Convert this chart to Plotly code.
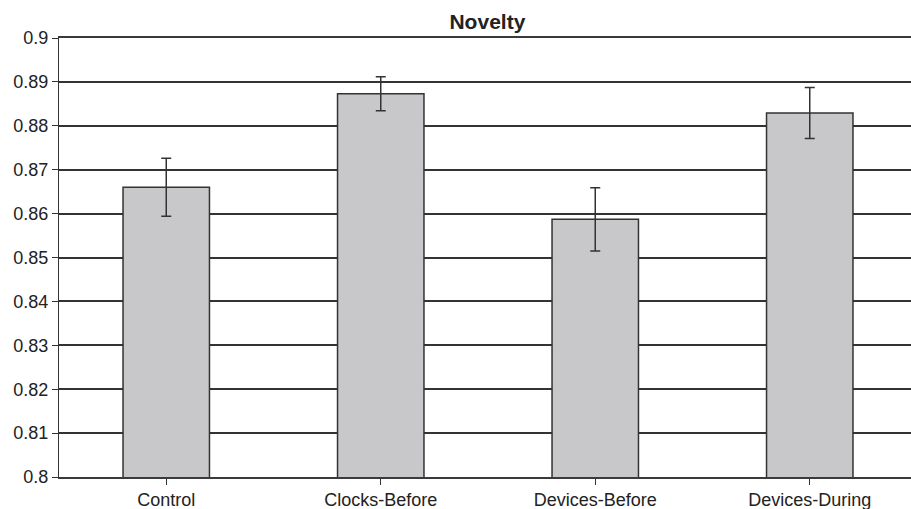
import plotly.graph_objects as go

categories = ["Control", "Clocks-Before", "Devices-Before", "Devices-During"]
values = [0.8660, 0.8873, 0.8587, 0.8829]
errors = [0.0066, 0.0039, 0.0072, 0.0058]
y_ticks = [0.8, 0.81, 0.82, 0.83, 0.84, 0.85, 0.86, 0.87, 0.88, 0.89, 0.9]
y_tick_labels = ["0.8", "0.81", "0.82", "0.83", "0.84", "0.85", "0.86", "0.87", "0.88", "0.89", "0.9"]
title = "Novelty"

FONT = "Liberation Sans, Arial, sans-serif"
DARK = "#333333"

fig = go.Figure()
fig.add_trace(go.Bar(
    x=list(range(len(categories))),
    y=values,
    width=0.403,
    marker=dict(color="#c8c8ca", line=dict(color=DARK, width=1.5)),
    error_y=dict(type="data", array=errors, visible=True, color=DARK, thickness=1.5, width=5),
))

fig.update_layout(
    width=911, height=509,
    margin=dict(l=59, r=0, t=38, b=32, pad=0),
    paper_bgcolor="white", plot_bgcolor="white",
    showlegend=False,
    font=dict(family=FONT, size=16, color="#222222"),
    title=dict(text="<b>" + title + "</b>", x=0.535, xref="container", xanchor="center",
               y=1 - 21.5 / 509, yref="container", yanchor="middle",
               font=dict(family=FONT, size=21, color="#222222")),
    xaxis=dict(
        range=[-0.5, 3.472],
        tickvals=list(range(len(categories))),
        ticktext=categories,
        tickson="boundaries",
        ticks="outside", ticklen=6, tickcolor=DARK, tickwidth=1.2,
        showline=True, linecolor="#3a3a3a", linewidth=1.6, mirror=True,
        showgrid=False, zeroline=False,
        automargin=False,
        tickfont=dict(family=FONT, size=18, color="#222222"),
    ),
    yaxis=dict(
        range=[0.8, 0.9],
        tickvals=y_ticks, ticktext=y_tick_labels,
        ticks="outside", ticklen=6, tickcolor=DARK, tickwidth=1.2,
        showline=True, linecolor=DARK, linewidth=1.2,
        showgrid=True, gridcolor="#333333", gridwidth=1.6,
        zeroline=False,
        automargin=False,
        tickfont=dict(family=FONT, size=18, color="#222222"),
    ),
)

fig.write_html("out.html", config={"displayModeBar": False},
               post_script="document.body.style.margin='0';document.body.style.overflow='hidden';")
